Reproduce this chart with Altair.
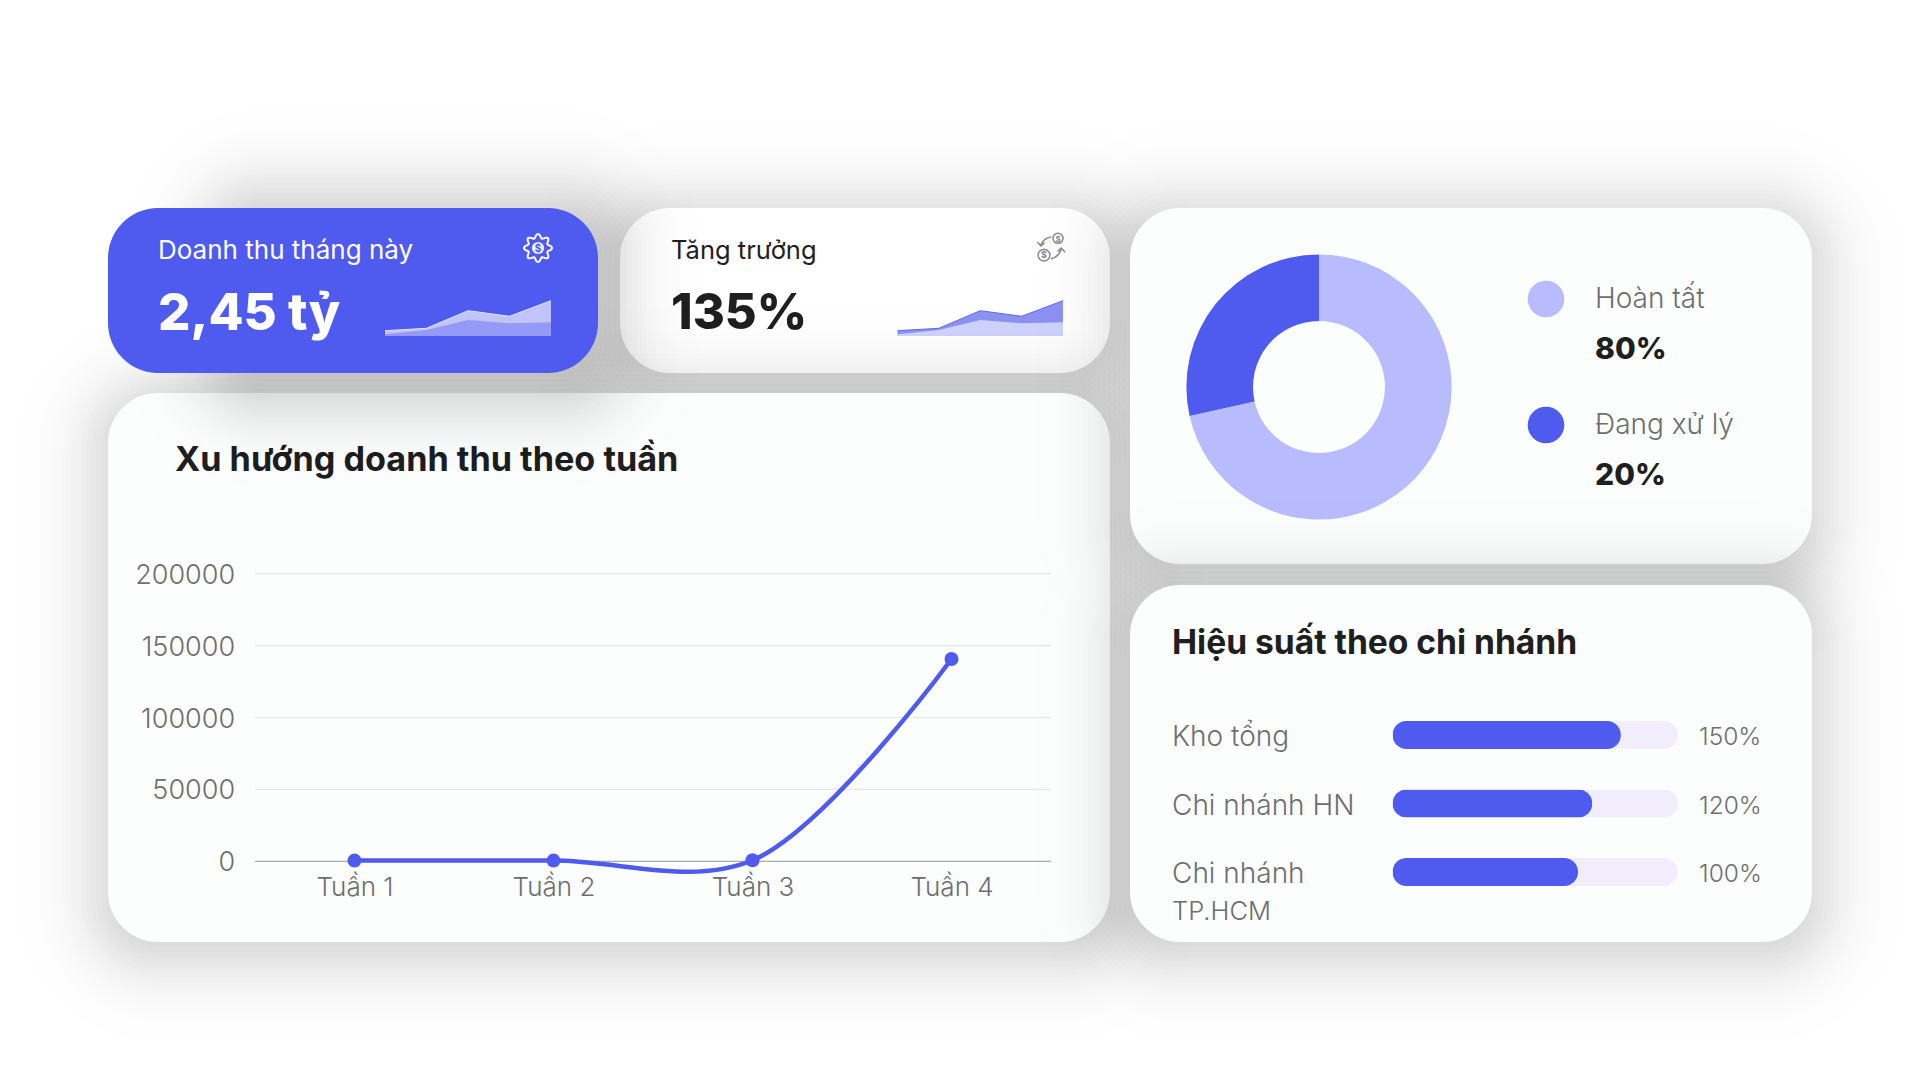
import math
import altair as alt
import pandas as pd

# ---------- data ----------
weeks = ["Tuần 1", "Tuần 2", "Tuần 3", "Tuần 4"]
revenue = [500, 500, 700, 140700]
y_ticks = [0, 50000, 100000, 150000, 200000]

spark_steps = [0, 1, 2, 3, 4]
spark_high = [5.3, 7.7, 25.3, 19.7, 35.3]
spark_low = [1.7, 6, 16, 12.7, 13.7]

donut_labels = ["Hoàn tất", "Đang xử lý"]
donut_values = [71.5, 28.5]
donut_legend = ["80%", "20%"]

branches = ["Kho tổng", "Chi nhánh HN", "Chi nhánh TP.HCM"]
branch_line1 = ["Kho tổng", "Chi nhánh HN", "Chi nhánh"]
branch_pct = ["150%", "120%", "100%"]
branch_fill = [80, 70, 65]
branch_track = [100, 100, 100]

# ---------- style ----------
W, H = 1904, 1064
BLUE = "#4F5AEE"
LIGHT = "#B8BCFF"
DARK = "#1F1F1F"
GRAY = "#6E6E6E"
CARD = "#FCFDFD"
FONT = "Inter"
ONE = alt.Data(values=[{"a": 1}])

layers = []


def px(v):
    return v - 8


def rect(x0, y0, x1, y1, r, fill, opacity=1.0):
    return alt.Chart(ONE).mark_rect(cornerRadius=r, fill=fill, opacity=opacity).encode(
        x=alt.value(px(x0)), x2=alt.value(px(x1)), y=alt.value(px(y0)), y2=alt.value(px(y1))
    )


def phi(z):
    return 0.5 * (1 + math.erf(z / math.sqrt(2)))


def shadow(x0, y0, x1, y1, r=50, sigma=40.0, alpha=0.24, step=5):
    out = []
    prev = 0.0
    d = int(2.3 * sigma)
    while d >= -int(2.3 * sigma):
        target = alpha * phi(-(d - step / 2) / sigma)
        a = 1 - (1 - target) / (1 - prev)
        prev = target
        if x1 - x0 > 2 * -d and y1 - y0 > 2 * -d:
            out.append(rect(x0 - d, y0 - d, x1 + d, y1 + d, max(r + d, 30), "#000000", a))
        d -= step
    return out


def text(s, x, y, size, color, weight=400, align="left"):
    return alt.Chart(ONE).mark_text(
        font=FONT, fontSize=size, fontWeight=weight, color=color, align=align, baseline="alphabetic"
    ).encode(x=alt.value(px(x)), y=alt.value(px(y)), text=alt.value(s))


def card(x0, y0, x1, y1, fill=CARD, s=None):
    sx = s or (x0, y0 + 8, x1, y1 + 8)
    return shadow(*sx) + [rect(x0, y0, x1, y1, 50, fill)]


def spark(x0, x1, high_col, low_col, edge):
    d = pd.DataFrame({"s": spark_steps, "h": spark_high, "l": spark_low})
    xs = alt.Scale(domain=[0, 4], range=[px(x0), px(x1)])
    ys = alt.Scale(domain=[0, 40], range=[px(336), px(296)])
    xe = alt.X("s:Q", scale=xs, axis=None)
    return [
        alt.Chart(d).mark_area(color=high_col).encode(x=xe, y=alt.Y("h:Q", scale=ys, axis=None)),
        alt.Chart(d).mark_area(color=low_col).encode(x=xe, y=alt.Y("l:Q", scale=ys, axis=None)),
        alt.Chart(d).mark_line(color=edge, strokeWidth=1).encode(x=xe, y=alt.Y("h:Q", scale=ys, axis=None)),
    ]


def unit_circle(cx, cy, r):
    return (f"M{cx + r} {cy}A{r} {r} 0 1 0 {cx - r} {cy}A{r} {r} 0 1 0 {cx + r} {cy}Z")


def gear_path():
    pts = []
    for i in range(96):
        t = 2 * math.pi * i / 96
        rad = 0.86 + 0.14 * math.cos(8 * t)
        pts.append(f"{rad * math.cos(t):.3f} {rad * math.sin(t):.3f}")
    return "M" + "L".join(pts) + "Z"


def icon(path, x, y, size, color, width):
    return alt.Chart(ONE).mark_point(
        shape=path, size=size, filled=False, stroke=color, strokeWidth=width, opacity=1
    ).encode(x=alt.value(px(x)), y=alt.value(px(y)))


coins_path = (
    unit_circle(0.5, -0.62, 0.36) + unit_circle(-0.5, 0.58, 0.42)
    + "M0.02 -0.72Q-0.55 -0.65 -0.72 -0.12M-0.98 -0.35L-0.72 -0.08L-0.45 -0.3"
    + "M-0.02 0.85Q0.55 0.72 0.74 0.15M0.46 0.32L0.74 0.08L1 0.38"
)

# ---------- growth card ----------
layers += card(620, 208, 1110, 373, "#FFFFFF")
layers += [
    text("Tăng trưởng", 671, 259, 25.5, DARK),
    text("135%", 671, 329, 49, DARK, 800),
    icon(coins_path, 1051, 247, 784, "#8A8A8A", 1.5),
    text("$", 1058, 242, 8, "#8A8A8A", 700, "center"),
    text("$", 1044, 258, 9, "#8A8A8A", 700, "center"),
]
layers += spark(897.5, 1063, "#8D92F2", "#CFD2FC", "#5F68EE")

# ---------- weekly trend card ----------
layers += card(108, 393, 1110, 942)
layers.append(text("Xu hướng doanh thu theo tuần", 175, 471, 34.2, DARK, 700))

line_df = pd.DataFrame({"w": weeks, "v": revenue})
tick_df = pd.DataFrame({"t": y_ticks})
week_scale = alt.Scale(type="point", domain=weeks, range=[px(354.5), px(951.5)], padding=0)
rev_scale = alt.Scale(domain=[0, 200000], range=[px(861.3), px(573.7)])
layers.append(
    alt.Chart(tick_df).mark_rule(strokeWidth=1.2).encode(
        x=alt.value(px(255)), x2=alt.value(px(1051)),
        y=alt.Y("t:Q", scale=rev_scale, axis=alt.Axis(
            values=y_ticks, grid=False, domain=False, ticks=False, tickSize=0, title=None, zindex=1,
            labelFont=FONT, labelFontSize=27, labelColor=GRAY, labelPadding=0, labelFontWeight=300,
            offset=-(234.6 - 8), labelBaseline="middle", format="d", labelOffset=1.5,
        )),
        color=alt.condition("datum.t === 0", alt.value("#ABABAB"), alt.value("#E6E6E6")),
    )
)
week_x = alt.X("w:N", scale=week_scale, sort=None, axis=alt.Axis(
    domain=False, ticks=False, tickSize=0, grid=False, title=None, labelAngle=0, zindex=1,
    labelFont=FONT, labelFontSize=26, labelColor=GRAY, labelPadding=0, labelFontWeight=300,
    offset=-(H - (895 - 0.79 * 26 - 8)), labelBaseline="top",
))
layers.append(
    alt.Chart(line_df).mark_line(
        color=BLUE, strokeWidth=4.5, interpolate="catmull-rom", tension=0.5
    ).encode(x=week_x, y=alt.Y("v:Q", scale=rev_scale, axis=None))
)
layers.append(
    alt.Chart(line_df).mark_circle(color=BLUE, size=196, opacity=1).encode(
        x=alt.X("w:N", scale=week_scale, sort=None, axis=None),
        y=alt.Y("v:Q", scale=rev_scale, axis=None),
    )
)

# ---------- donut card ----------
layers += card(1130, 208, 1812, 564)
donut_df = pd.DataFrame({"k": donut_labels, "v": donut_values, "i": [0, 1], "p": donut_legend})
donut_color = alt.Scale(domain=donut_labels, range=[LIGHT, BLUE])
layers.append(
    alt.Chart(donut_df).mark_arc(radius=132.6, radius2=66).encode(
        x=alt.value(px(1319)), y=alt.value(px(387)),
        theta=alt.Theta("v:Q", stack=True),
        order=alt.Order("i:O"),
        color=alt.Color("k:N", scale=donut_color, legend=None),
    )
)
legend_y = alt.Scale(type="point", domain=donut_labels, range=[px(299), px(425)], padding=0)
layers.append(
    alt.Chart(donut_df).mark_circle(size=1340, opacity=1).encode(
        x=alt.value(px(1546)),
        y=alt.Y("k:N", scale=legend_y, sort=None, axis=None),
        color=alt.Color("k:N", scale=donut_color, legend=None),
    )
)
layers.append(
    alt.Chart(donut_df).mark_text(
        font=FONT, fontSize=28, fontWeight=300, color=GRAY, align="left", baseline="middle", dy=0.5
    ).encode(x=alt.value(px(1595)), y=alt.Y("k:N", scale=legend_y, sort=None, axis=None), text="k:N")
)
layers.append(
    alt.Chart(donut_df).mark_text(
        font=FONT, fontSize=30, fontWeight=800, color=DARK, align="left", baseline="middle", dy=51
    ).encode(x=alt.value(px(1595)), y=alt.Y("k:N", scale=legend_y, sort=None, axis=None), text="p:N")
)

# ---------- branch card ----------
layers += card(1130, 585, 1812, 942)
layers.append(text("Hiệu suất theo chi nhánh", 1172, 654, 33.6, DARK, 700))
bar_df = pd.DataFrame({"b": branches, "line": branch_line1, "pct": branch_pct,
                       "fill": branch_fill, "track": branch_track})
bar_x = alt.Scale(domain=[0, 100], range=[px(1392.5), px(1678)])
bar_y = alt.Scale(type="band", domain=branches, range=[px(721), px(886)], paddingInner=0.591, paddingOuter=0)
for col, colr in (("track", "#F1EDFD"), ("fill", BLUE)):
    layers.append(
        alt.Chart(bar_df).mark_bar(color=colr, cornerRadius=14).encode(
            x=alt.X(f"{col}:Q", scale=bar_x, axis=None),
            y=alt.Y("b:N", scale=bar_y, sort=None, axis=None),
        )
    )
for col, xpos, fs in (("line", 1172, 28), ("pct", 1699, 24.5)):
    layers.append(
        alt.Chart(bar_df).mark_text(
            font=FONT, fontSize=fs, fontWeight=300, color=GRAY, align="left", baseline="middle", dy=3
        ).encode(x=alt.value(px(xpos)), y=alt.Y("b:N", scale=bar_y, sort=None, axis=None), text=f"{col}:N")
    )
layers.append(text("TP.HCM", 1172, 920, 25.5, GRAY, 300))

# ---------- revenue card (top of the stack) ----------
layers += card(108, 208, 598, 373, BLUE, s=(215, 200, 610, 395))
layers += [
    text("Doanh thu tháng này", 158, 259, 26, "#FFFFFF"),
    text("2,45 tỷ", 158, 330, 51, "#FFFFFF", 800),
    icon(gear_path(), 538, 248, 784, "#FFFFFF", 2),
    alt.Chart(ONE).mark_circle(size=150, color="#FFFFFF", opacity=0.9).encode(
        x=alt.value(px(538)), y=alt.value(px(248))),
    text("$", 538, 252, 10, BLUE, 700, "center"),
]
layers += spark(385, 551, "#C0C4FB", "#9599F7", "#E4E6FE")

chart = alt.layer(*layers).resolve_scale(
    x="independent", y="independent", color="independent", theta="independent"
).properties(
    width=W, height=H, padding=0, background="#FFFFFF",
    autosize=alt.AutoSizeParams(type="none", contains="padding"),
).configure_view(stroke=None)

chart.save("out.html", embed_options={"renderer": "svg", "actions": False})
